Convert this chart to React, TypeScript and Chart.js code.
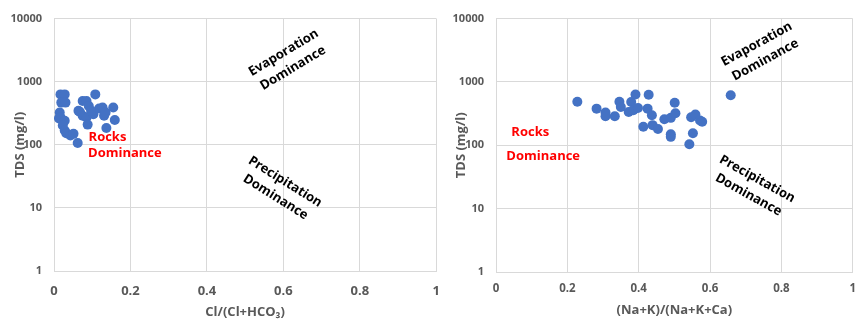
import { useEffect, useRef } from "react";
import { Chart, registerables } from "chart.js";

Chart.register(...registerables);
Chart.defaults.font.family = "'Open Sans', sans-serif";

// Gibbs plot 1: Cl/(Cl+HCO3) against TDS
const clRatio = [
  0.017, 0.028, 0.019, 0.030, 0.015, 0.017, 0.013, 0.028, 0.023, 0.028, 0.032,
  0.043, 0.051, 0.062, 0.064, 0.075, 0.075, 0.085, 0.091, 0.085, 0.088, 0.108,
  0.103, 0.118, 0.127, 0.131, 0.135, 0.137, 0.155, 0.159, 0.097, 0.068,
];
const tdsCl = [
  629, 629, 466, 466, 325, 272, 262, 241, 202, 168, 153,
  141, 149, 107, 345, 289, 495, 495, 413, 272, 209, 629,
  306, 376, 389, 289, 325, 185, 389, 247, 345, 330,
];

// Gibbs plot 2: (Na+K)/(Na+K+Ca) against TDS
const naRatio = [
  0.228, 0.282, 0.307, 0.307, 0.333, 0.346, 0.350, 0.372, 0.379, 0.385, 0.391,
  0.398, 0.425, 0.428, 0.437, 0.413, 0.439, 0.454, 0.472, 0.490, 0.501, 0.503,
  0.490, 0.490, 0.542, 0.552, 0.547, 0.559, 0.572, 0.578, 0.658,
];
const tdsNa = [
  487, 379, 328, 288, 288, 487, 402, 336, 481, 357, 634,
  388, 379, 626, 298, 196, 208, 181, 258, 271, 470, 321,
  149, 136, 104, 155, 278, 305, 246, 235, 618,
];

const xTickValues = [0, 0.2, 0.4, 0.6, 0.8, 1];
const yTickValues = [1, 10, 100, 1000, 10000];
const yTitle = "TDS (mg/l)";

type Region = {
  lines: string[];
  x: number;
  y: number;
  angle: number;
  color: string;
  align: CanvasTextAlign;
};

const clRegions: Region[] = [
  { lines: ["Evaporation", "Dominance"], x: 0.613, y: 2175, angle: -31, color: "#000000", align: "center" },
  { lines: ["Precipitation", "Dominance"], x: 0.592, y: 19.6, angle: 32, color: "#000000", align: "center" },
  { lines: ["Rocks"], x: 0.0904, y: 133, angle: 0, color: "#ff0000", align: "left" },
  { lines: ["Dominance"], x: 0.089, y: 73, angle: 0, color: "#ff0000", align: "left" },
];

const naRegions: Region[] = [
  { lines: ["Evaporation", "Dominance"], x: 0.743, y: 2958, angle: -28.5, color: "#000000", align: "center" },
  { lines: ["Precipitation", "Dominance"], x: 0.72, y: 22, angle: 29, color: "#000000", align: "center" },
  { lines: ["Rocks"], x: 0.043, y: 158, angle: 0, color: "#ff0000", align: "left" },
  { lines: ["Dominance"], x: 0.029, y: 67, angle: 0, color: "#ff0000", align: "left" },
];

// Writes the region names onto the plot, anchored in data coordinates.
function regionPlugin(regions: Region[]) {
  return {
    id: "regionLabels",
    afterDatasetsDraw(chart: any) {
      const { ctx, scales } = chart;
      for (const r of regions) {
        const px = scales.x.getPixelForValue(r.x);
        const py = scales.y.getPixelForValue(r.y);
        ctx.save();
        ctx.translate(px, py);
        ctx.rotate((r.angle * Math.PI) / 180);
        ctx.font = "bold 13px 'Open Sans', sans-serif";
        ctx.fillStyle = r.color;
        ctx.textAlign = r.align;
        ctx.textBaseline = "middle";
        const gap = 18;
        r.lines.forEach((t, i) => {
          ctx.fillText(t, 0, (i - (r.lines.length - 1) / 2) * gap);
        });
        ctx.restore();
      }
    },
  };
}

type PlotSpec = {
  xs: number[];
  ys: number[];
  xTitle: string;
  yAxisWidth: number;
  xAxisHeight: number;
  padTop: number;
  padRight: number;
  yTitlePad: number;
  xTitlePad: number;
  xTickSize: number;
  xTickPad: number;
  regions: Region[];
};

function buildChart(canvas: HTMLCanvasElement, s: PlotSpec) {
  const grey = "#595959";
  const gridColor = "#d9d9d9";
  return new Chart(canvas, {
    type: "scatter",
    data: {
      datasets: [
        {
          data: s.xs.map((x, i) => ({ x, y: s.ys[i] })),
          backgroundColor: "#4472c4",
          borderColor: "#4472c4",
          borderWidth: 0,
          pointRadius: 5,
          pointHoverRadius: 5,
        },
      ],
    },
    options: {
      animation: false,
      responsive: false,
      devicePixelRatio: 1,
      events: [],
      layout: { padding: { left: 0, top: s.padTop, right: s.padRight, bottom: 0 } },
      plugins: {
        legend: { display: false },
        tooltip: { enabled: false },
      },
      scales: {
        x: {
          type: "linear",
          min: 0,
          max: 1,
          afterBuildTicks: (scale: any) => {
            scale.ticks = xTickValues.map((value) => ({ value }));
          },
          afterFit: (scale: any) => {
            scale.height = s.xAxisHeight;
          },
          ticks: {
            autoSkip: false,
            maxRotation: 0,
            padding: s.xTickPad,
            color: grey,
            font: { size: s.xTickSize, weight: "bold" },
            callback: (v: any) => String(Math.round(Number(v) * 10) / 10),
          },
          grid: { color: gridColor, drawTicks: false },
          border: { color: gridColor },
          title: {
            display: true,
            text: s.xTitle,
            color: grey,
            font: { size: 13, weight: "bold" },
            padding: { top: 0, bottom: s.xTitlePad },
          },
        },
        y: {
          type: "logarithmic",
          min: 1,
          max: 10000,
          afterBuildTicks: (scale: any) => {
            scale.ticks = yTickValues.map((value) => ({ value }));
          },
          afterFit: (scale: any) => {
            scale.width = s.yAxisWidth;
          },
          ticks: {
            autoSkip: false,
            padding: 12,
            color: grey,
            font: { size: 11, weight: "bold" },
            callback: (v: any) => String(v),
          },
          grid: { color: gridColor, drawTicks: false },
          border: { color: gridColor },
          title: {
            display: true,
            text: yTitle,
            color: grey,
            font: { size: 13, weight: "bold" },
            padding: { top: s.yTitlePad, bottom: 0 },
          },
        },
      },
    },
    plugins: [regionPlugin(s.regions)],
  } as any);
}

export default function App() {
  const leftRef = useRef<HTMLCanvasElement | null>(null);
  const rightRef = useRef<HTMLCanvasElement | null>(null);

  useEffect(() => {
    if (!leftRef.current || !rightRef.current) return;
    const left = buildChart(leftRef.current, {
      xs: clRatio,
      ys: tdsCl,
      xTitle: "Cl/(Cl+HCO\u2083)",
      yAxisWidth: 54,
      xAxisHeight: 51,
      padTop: 15,
      padRight: 11,
      yTitlePad: 12,
      xTitlePad: 2,
      xTickSize: 13,
      xTickPad: 12,
      regions: clRegions,
    });
    const right = buildChart(rightRef.current, {
      xs: naRatio,
      ys: tdsNa,
      xTitle: "(Na+K)/(Na+K+Ca)",
      yAxisWidth: 56,
      xAxisHeight: 50,
      padTop: 15,
      padRight: 4,
      yTitlePad: 13,
      xTitlePad: 4,
      xTickSize: 11.5,
      xTickPad: 10,
      regions: naRegions,
    });
    return () => {
      left.destroy();
      right.destroy();
    };
  }, []);

  return (
    <div
      style={{
        position: "fixed",
        left: 0,
        top: 0,
        width: 866,
        height: 322,
        background: "#ffffff",
        overflow: "hidden",
      }}
    >
      <canvas
        ref={leftRef}
        width={452}
        height={322}
        style={{ position: "absolute", left: 0, top: 0, width: 452, height: 322 }}
      />
      <canvas
        ref={rightRef}
        width={426}
        height={322}
        style={{ position: "absolute", left: 440, top: 0, width: 426, height: 322 }}
      />
    </div>
  );
}
